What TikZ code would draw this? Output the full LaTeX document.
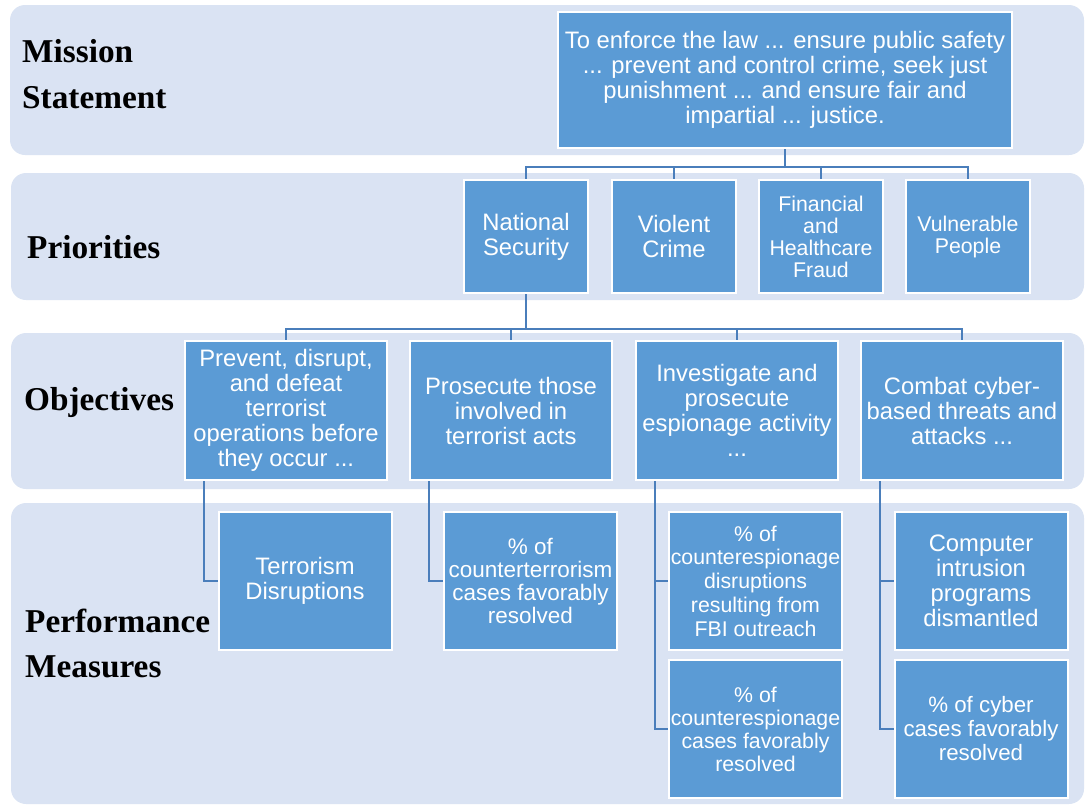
\documentclass[tikz,border=0pt]{standalone}
\usepackage{fontspec}
\setmainfont{Liberation Serif}
\setsansfont{Liberation Sans}
\usetikzlibrary{calc}
\definecolor{bandblue}{HTML}{DAE3F3}
\definecolor{boxblue}{HTML}{5B9BD5}
\definecolor{lineblue}{HTML}{4A7EBB}
\tikzset{
  band/.style={fill=bandblue, draw=none, rounded corners=15pt},
  box/.style={fill=boxblue, draw=white, line width=2pt, text=white, align=center,
    inner sep=1pt, font=\sffamily\fontsize{23.8}{25}\selectfont},
  pbox/.style={box, minimum width=124pt, minimum height=113pt},
  obox/.style={box, minimum width=202pt, minimum height=139pt},
  mbox/.style={box, minimum width=173pt, minimum height=138pt},
  lbl/.style={anchor=base west, inner sep=0pt, font=\rmfamily\bfseries\fontsize{33.3}{40}\selectfont},
  conn/.style={draw=lineblue, line width=2.6pt},
}
\begin{document}
\begin{tikzpicture}[x=1pt, y=-1pt]
\useasboundingbox (0,0) rectangle (1088,806);
% bands
\fill[band] (10,5) rectangle (1084,155);
\fill[band] (11,173) rectangle (1084,300);
\fill[band] (11,333) rectangle (1084,489);
\fill[band] (11,503) rectangle (1084,804);
% labels
\node[lbl] (l1a) at (22,62) {Mission};
\node[lbl] (l1b) at (22,108) {Statement};
\node[lbl] (l2) at (27,258) {Priorities};
\node[lbl] (l3) at (24,410) {Objectives};
\node[lbl] (l4a) at (25,632) {Performance};
\node[lbl] (l4b) at (25,677) {Measures};
% helper levels
\coordinate (h1) at (0,167);
\coordinate (h2) at (0,329);
% boxes
\node[box, minimum width=454pt, minimum height=136pt] (mission) at (785,80)
  {To enforce the law ... ensure public safety\\... prevent and control crime, seek just\\punishment ... and ensure fair and\\impartial ... justice.};
\node[pbox] (p1) at (526,236.5) {National\\Security};
\node[pbox] (p2) at (674,236.5) {Violent\\Crime};
\node[pbox, font=\sffamily\fontsize{21.3}{22}\selectfont] (p3) at (821,236.5) {Financial\\and\\Healthcare\\Fraud};
\node[pbox, font=\sffamily\fontsize{21.3}{22}\selectfont] (p4) at (968,236.5) {Vulnerable\\People};
\node[obox] (o1) at (286,410.5) {Prevent, disrupt,\\and defeat\\terrorist\\operations before\\they occur ...};
\node[obox] (o2) at (511,410.5) {Prosecute those\\involved in\\terrorist acts};
\node[obox] (o3) at (737,410.5) {Investigate and\\prosecute\\espionage activity\\...};
\node[obox] (o4) at (962,410.5) {Combat cyber-\\based threats and\\attacks ...};
\node[mbox] (m1) at (305,581) {Terrorism\\Disruptions};
\node[mbox, font=\sffamily\fontsize{22.5}{23}\selectfont] (m2) at (530.5,581) {\%\ of\\counterterrorism\\cases favorably\\resolved};
\node[mbox, font=\sffamily\fontsize{21.3}{23.7}\selectfont] (m3a) at (755.5,581) {\%\ of\\counterespionage\\disruptions\\resulting from\\FBI outreach};
\node[mbox, font=\sffamily\fontsize{21.3}{23}\selectfont] (m3b) at (755.5,729) {\%\ of\\counterespionage\\cases favorably\\resolved};
\node[mbox] (m4a) at (981,581) {Computer\\intrusion\\programs\\dismantled};
\node[mbox, font=\sffamily\fontsize{22.3}{24}\selectfont] (m4b) at (981,729) {\%\ of cyber\\cases favorably\\resolved};
% connectors
\draw[conn] (mission.south) -- (mission.south |- h1);
\foreach \p in {p1,p2,p3,p4}{\draw[conn] (mission.south |- h1) -| (\p.north);}
\draw[conn] (p1.south) -- (p1.south |- h2);
\foreach \o in {o1,o2,o3,o4}{\draw[conn] (p1.south |- h2) -| (\o.north);}
\coordinate (v1) at ($(o1.south west)+(20,0)$);
\coordinate (v2) at ($(o2.south west)+(20,0)$);
\coordinate (v3) at ($(o3.south west)+(20,0)$);
\coordinate (v4) at ($(o4.south west)+(20,0)$);
\draw[conn] (v1) |- (m1.west);
\draw[conn] (v2) |- (m2.west);
\draw[conn] (v3) |- (m3a.west);
\draw[conn] (v3) |- (m3b.west);
\draw[conn] (v4) |- (m4a.west);
\draw[conn] (v4) |- (m4b.west);
\end{tikzpicture}
\end{document}
